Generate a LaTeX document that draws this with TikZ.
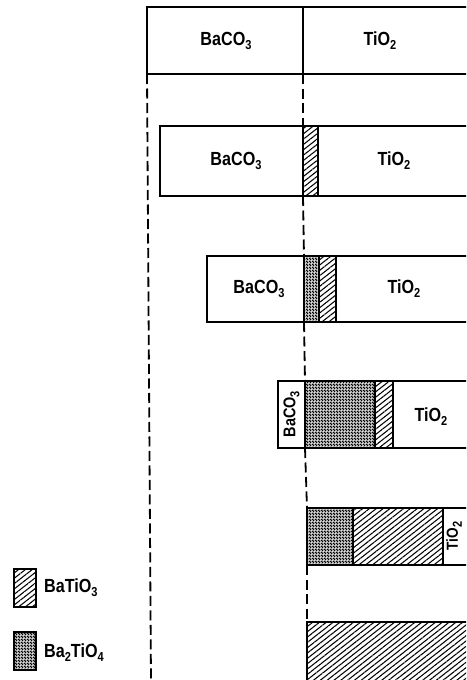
\documentclass[tikz,border=0pt]{standalone}
\usepackage{fontspec}
\setmainfont{Liberation Sans}[FakeStretch=0.85]
\usetikzlibrary{patterns,patterns.meta}
\newcommand\chs[1]{\raisebox{-4pt}{\fontsize{13}{13}\selectfont #1}}
\pgfdeclarepatternformonly{checker}{\pgfqpoint{0pt}{0pt}}{\pgfqpoint{3pt}{3pt}}{\pgfqpoint{3pt}{3pt}}{%
  \pgfpathrectangle{\pgfqpoint{0pt}{0pt}}{\pgfqpoint{3pt}{3pt}}%
  \pgfpathrectangle{\pgfqpoint{0.15pt}{0.15pt}}{\pgfqpoint{1.2pt}{1.2pt}}%
  \pgfpathrectangle{\pgfqpoint{1.65pt}{1.65pt}}{\pgfqpoint{1.2pt}{1.2pt}}%
  \pgfseteorule\pgfusepath{fill}}
\tikzset{
  part/.style={draw, line width=1.8pt, rectangle, inner sep=0pt, outer sep=0pt, anchor=north west},
  bt/.style={part, pattern={Lines[angle=38,distance=4.2pt,line width=1.05pt]}},
  btt/.style={part, pattern=checker},
  lab/.style={font=\fontsize{19}{19}\selectfont\bfseries, inner sep=0pt},
  guide/.style={line width=1.8pt, dash pattern=on 10pt off 4.5pt},
}
\begin{document}
\begin{tikzpicture}[x=1pt,y=-1pt]
\useasboundingbox (0,0) rectangle (466,680);
\clip (0,0) rectangle (466,680);
% box 1
\node[part, minimum width=156pt, minimum height=67pt] (r1a) at (147,7) {};
\node[part, minimum width=180pt, minimum height=67pt] (r1b) at (303,7) {};
\node[lab] (t1a) at (226,41) {BaCO\chs{3}};
\node[lab] (t1b) at (380,41) {TiO\chs{2}};
% box 2
\node[part, minimum width=143pt, minimum height=70pt] (r2a) at (160,126) {};
\node[bt, minimum width=15pt, minimum height=70pt] (r2b) at (303,126) {};
\node[part, minimum width=165pt, minimum height=70pt] (r2c) at (318,126) {};
\node[lab] (t2a) at (236,161) {BaCO\chs{3}};
\node[lab] (t2c) at (394,161) {TiO\chs{2}};
% box 3
\node[part, minimum width=97pt, minimum height=66pt] (r3a) at (207,256) {};
\node[btt, minimum width=15pt, minimum height=66pt] (r3b) at (304,256) {};
\node[bt, minimum width=17pt, minimum height=66pt] (r3c) at (319,256) {};
\node[part, minimum width=150pt, minimum height=66pt] (r3d) at (336,256) {};
\node[lab] (t3a) at (259,289) {BaCO\chs{3}};
\node[lab] (t3d) at (404,289) {TiO\chs{2}};
% box 4
\node[part, minimum width=27pt, minimum height=67pt] (r4a) at (278,381) {};
\node[btt, minimum width=70pt, minimum height=67pt] (r4b) at (305,381) {};
\node[bt, minimum width=18pt, minimum height=67pt] (r4c) at (375,381) {};
\node[part, minimum width=90pt, minimum height=67pt] (r4d) at (393,381) {};
\node[lab, font=\fontsize{17}{17}\selectfont\bfseries, rotate=90] (t4a) at (291.5,414) {BaCO\chs{3}};
\node[lab] (t4d) at (431,417) {TiO\chs{2}};
% box 5
\node[btt, minimum width=46pt, minimum height=57pt] (r5a) at (307,508) {};
\node[bt, minimum width=90pt, minimum height=57pt] (r5b) at (353,508) {};
\node[part, minimum width=40pt, minimum height=57pt] (r5c) at (443,508) {};
\node[lab, font=\fontsize{16}{16}\selectfont\bfseries, rotate=90] (t5c) at (454,536) {TiO\chs{2}};
% box 6
\node[bt, minimum width=180pt, minimum height=80pt] (r6) at (307,622) {};
% guides
\coordinate (lb) at (151,682);
\draw[guide] (r1a.south west) -- (lb);
\draw[guide] (r1a.south east) -- (r2a.north east);
\draw[guide] (r2a.south east) -- (r3a.north east);
\draw[guide] (r3a.south east) -- (r4a.north east);
\draw[guide] (r4a.south east) -- (r5a.north west);
\draw[guide] (r5a.south west) -- (r6.north west);
% legend
\node[bt, minimum width=22pt, minimum height=38pt] (k1) at (14,569) {};
\node[lab, anchor=west] (k1t) at (44,588) {BaTiO\chs{3}};
\node[btt, minimum width=22pt, minimum height=38pt] (k2) at (14,632) {};
\node[lab, anchor=west] (k2t) at (44,653) {Ba\chs{2}TiO\chs{4}};
\end{tikzpicture}
\end{document}
